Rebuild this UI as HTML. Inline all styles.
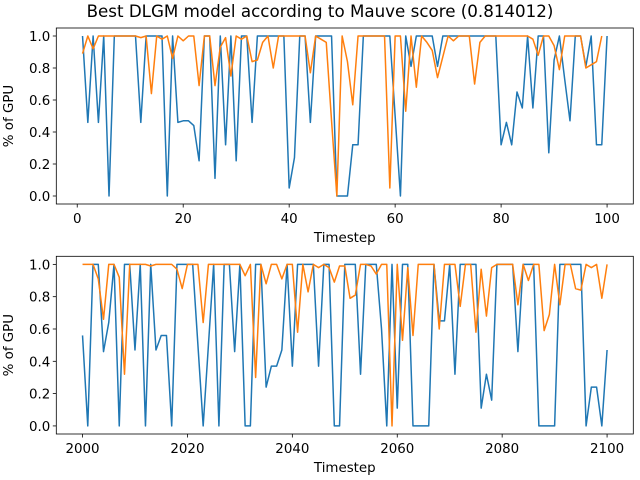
<!DOCTYPE html>
<html><head><meta charset="utf-8"><style>
body{margin:0;background:#fff;}
svg{display:block;font-family:"DejaVu Sans","Liberation Sans",sans-serif;}
</style></head><body>
<svg id="c" width="640" height="480" xmlns="http://www.w3.org/2000/svg">
<text x="320" y="17" text-anchor="middle" font-size="16.7">Best DLGM model according to Mauve score (0.814012)</text>
</svg>
<script>
const topBlue=[1,.46,1,.46,1,0,1,1,1,1,1,.46,1,1,1,1,0,1,.46,.47,.47,.44,.22,1,1,.11,1,.32,1,.22,1,1,.46,1,1,1,1,1,1,.05,.24,1,1,.46,1,1,1,1,0,0,0,.32,.32,1,1,1,1,1,1,.5,0,1,.81,1,1,1,1,.81,1,1,1,1,1,1,1,1,1,1,1,.32,.46,.32,.65,.55,1,.55,1,1,.27,.85,1,.73,.47,1,1,.81,1,.32,.32,1];
const topOrange=[.89,1,.92,1,1,1,1,1,1,1,1,.99,1,.64,1,.98,1,.86,1,.97,1,1,.69,1,1,.69,.93,.99,.75,1,.98,1,.84,.85,.96,1,.8,1,1,1,1,1,1,.77,1,.98,.96,.47,0,1,.84,.57,1,1,1,1,1,1,.05,1,1,.53,1,.68,1,.96,.91,.74,.87,1,.97,1,1,1,.7,.96,1,1,1,1,1,1,1,1,1,.98,.88,1,1,.94,.79,1,1,1,1,.8,.82,.84,1];
const botBlue=[.56,0,1,1,.46,.64,1,0,1,1,.47,1,0,1,.47,.56,.56,0,1,1,1,1,.5,0,.5,1,0,1,1,.46,1,0,0,1,1,.24,.37,.37,.47,1,.37,1,1,1,1,.37,1,1,0,0,1,1,1,.32,1,1,1,.6,0,1,.11,1,1,0,0,0,0,1,.65,.65,1,.32,1,1,1,1,.11,.32,.16,1,1,1,1,.46,1,1,1,0,0,0,0,1,1,1,1,1,0,.24,.24,0,.47];
const botOrange=[1,1,1,.91,.66,1,1,.92,.32,1,1,1,1,.99,1,1,1,1,.97,.85,1,1,1,.64,1,1,1,1,1,1,1,.93,1,.3,1,.88,1,1,.91,1,1,.58,1,.83,1,.98,1,.98,.89,.99,.99,.79,.81,1,1,.99,.94,1,1,0,1,.53,.98,.56,1,1,1,1,.6,1,1,1,.74,1,1,.58,.97,.68,.98,1,1,1,1,.75,1,.9,1,1,.59,.69,1,.75,1,1,.85,.84,1,.98,1,.79,1];
const topXTicks=[0,20,40,60,80,100];
const botXTicks=[2000,2020,2040,2060,2080,2100];
const yTicks=[0,0.2,0.4,0.6,0.8,1.0];
const topStart=1, botStart=2000;

const NS="http://www.w3.org/2000/svg";
const svg=document.getElementById('c');
function mk(tag,attrs,parent){const e=document.createElementNS(NS,tag);for(const k in attrs)e.setAttribute(k,attrs[k]);(parent||svg).appendChild(e);return e;}

function panel(prefix,L,R,T,B,xmin,xmax,xticks,blue,orange,start){
  const g=mk('g',{});
  
  
  const sx=v=>L+(v-xmin)/(xmax-xmin)*(R-L);
  const sy=v=>B-(v+0.05)/1.1*(B-T);
  yTicks.forEach(v=>{
    const y=sy(v);
    mk('line',{x1:L-3.5,x2:L,y1:y,y2:y,stroke:'#000','stroke-width':0.8},g);
    const t=mk('text',{x:L-6,y:y+5,'text-anchor':'end','font-size':13.4},g);
    t.textContent=v.toFixed(1);
    
    
  });
  xticks.forEach(v=>{
    const x=sx(v);
    mk('line',{x1:x,x2:x,y1:B,y2:B+3.5,stroke:'#000','stroke-width':0.8},g);
    const t=mk('text',{x:x,y:B+19,'text-anchor':'middle','font-size':13.4},g);
    t.textContent=v;
    
    
  });
  [[blue,'#1f77b4','blue'],[orange,'#ff7f0e','orange']].forEach(([arr,col,nm])=>{
    const d=arr.map((v,i)=>(i?'L':'M')+sx(start+i).toFixed(2)+' '+sy(v).toFixed(2)).join(' ');
    const p=mk('path',{d:d,fill:'none',stroke:col,'stroke-width':1.5,'stroke-linejoin':'round'},g);
    
    
  });
  mk('rect',{x:L,y:T,width:R-L,height:B-T,fill:'none',stroke:'#000','stroke-width':0.8},g);
  const xl=mk('text',{x:(L+R)/2,y:B+38,'text-anchor':'middle','font-size':13.4},g);
  xl.textContent='Timestep';
  
  
  const cy=(T+B)/2;
  const yl=mk('text',{x:13,y:cy,'text-anchor':'middle','font-size':13.4,transform:'rotate(-90 13 '+cy+')'},g);
  yl.textContent='% of GPU';
  
  
}
panel('top',56.3,633.3,28,204,-3.95,104.95,topXTicks,topBlue,topOrange,topStart);
panel('bottom',56.3,633.3,256.3,434,1995,2105,botXTicks,botBlue,botOrange,botStart);
</script>
</body></html>
